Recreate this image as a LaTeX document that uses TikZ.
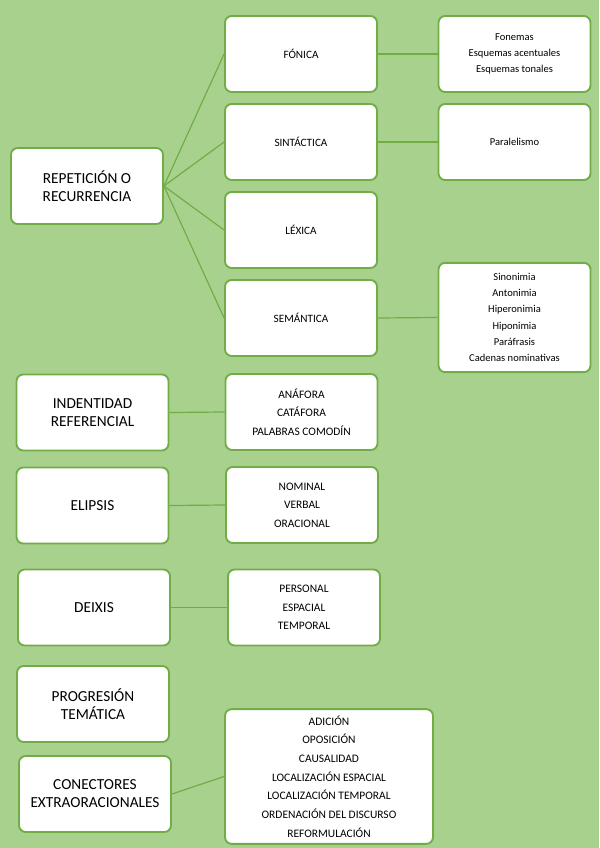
\documentclass[tikz,border=0pt]{standalone}
\usepackage{fontspec}
\setmainfont{Carlito}
\usepackage{tikz}
\usetikzlibrary{positioning}
\usepackage{xcolor}
\definecolor{fondo}{HTML}{A9D18E}
\definecolor{borde}{HTML}{70AD47}

\tikzset{
  caja/.style={draw=borde, line width=1.4pt, fill=white, rounded corners=5pt,
    minimum width=114pt, minimum height=57pt, align=center, inner sep=2pt},
  principal/.style={caja, font=\fontsize{11.5}{13.5}\selectfont},
  medio/.style={caja, font=\fontsize{8.4}{10}\selectfont},
  lista/.style={caja, font=\fontsize{7.9}{12.2}\selectfont},
  enlace/.style={draw=borde, line width=0.9pt}
}

\begin{document}
\begin{tikzpicture}[x=0.75pt, y=-0.75pt]
            \fill[fondo] (0,0) rectangle (599,848);
            \useasboundingbox (0,0) rectangle (599,848);

            \node[principal] (rep) at (87,186) {REPETICIÓN O\\RECURRENCIA};

            \node[medio] (fon) at (301,54) {FÓNICA};
            \node[medio] (sin) at (301,142) {SINTÁCTICA};
            \node[medio] (lex) at (301,230) {LÉXICA};
            \node[medio] (sem) at (301,318) {SEMÁNTICA};

            \node[lista] (fonl) at (514.5,54) {Fonemas\\Esquemas acentuales\\Esquemas tonales};
            \node[lista] (sinl) at (514.5,142) {Paralelismo};
            \node[lista, minimum height=82pt] (seml) at (514.5,317.5)
                {Sinonimia\\Antonimia\\Hiperonimia\\Hiponimia\\Paráfrasis\\Cadenas nominativas};

            \node[principal] (ind) at (92.5,412.5) {INDENTIDAD\\REFERENCIAL};
            \node[medio, font=\fontsize{8.6}{14}\selectfont] (indl) at (301.5,412) {ANÁFORA\\CATÁFORA\\PALABRAS COMODÍN};

            \node[principal] (eli) at (92.5,505.5) {ELIPSIS};
            \node[medio, font=\fontsize{8.6}{14}\selectfont] (elil) at (302,505) {NOMINAL\\VERBAL\\ORACIONAL};

            \node[principal] (dei) at (94,607.5) {DEIXIS};
            \node[medio, font=\fontsize{8.6}{14}\selectfont] (deil) at (304,607.5) {PERSONAL\\ESPACIAL\\TEMPORAL};

            \node[principal] (pro) at (93,704) {PROGRESIÓN\\TEMÁTICA};

            \node[principal] (con) at (95,794) {CONECTORES\\EXTRAORACIONALES};
            \node[medio, minimum width=156pt, minimum height=101pt, font=\fontsize{8.6}{14}\selectfont] (conl) at (329,776.5)
                {ADICIÓN\\OPOSICIÓN\\CAUSALIDAD\\LOCALIZACIÓN ESPACIAL\\LOCALIZACIÓN TEMPORAL\\ORDENACIÓN DEL DISCURSO\\REFORMULACIÓN};

            \foreach \destino in {fon, sin, lex, sem}
                \draw[enlace] (rep.east) -- (\destino.west);

            \draw[enlace] (fon.east) -- (fonl.west);
            \draw[enlace] (sin.east) -- (sinl.west);
            \draw[enlace] (sem.east) -- (seml.west);
            \draw[enlace] (ind.east) -- (indl.west);
            \draw[enlace] (eli.east) -- (elil.west);
            \draw[enlace] (dei.east) -- (deil.west);
            \draw[enlace] (con.east) -- (conl.west);
        \end{tikzpicture}
\end{document}
